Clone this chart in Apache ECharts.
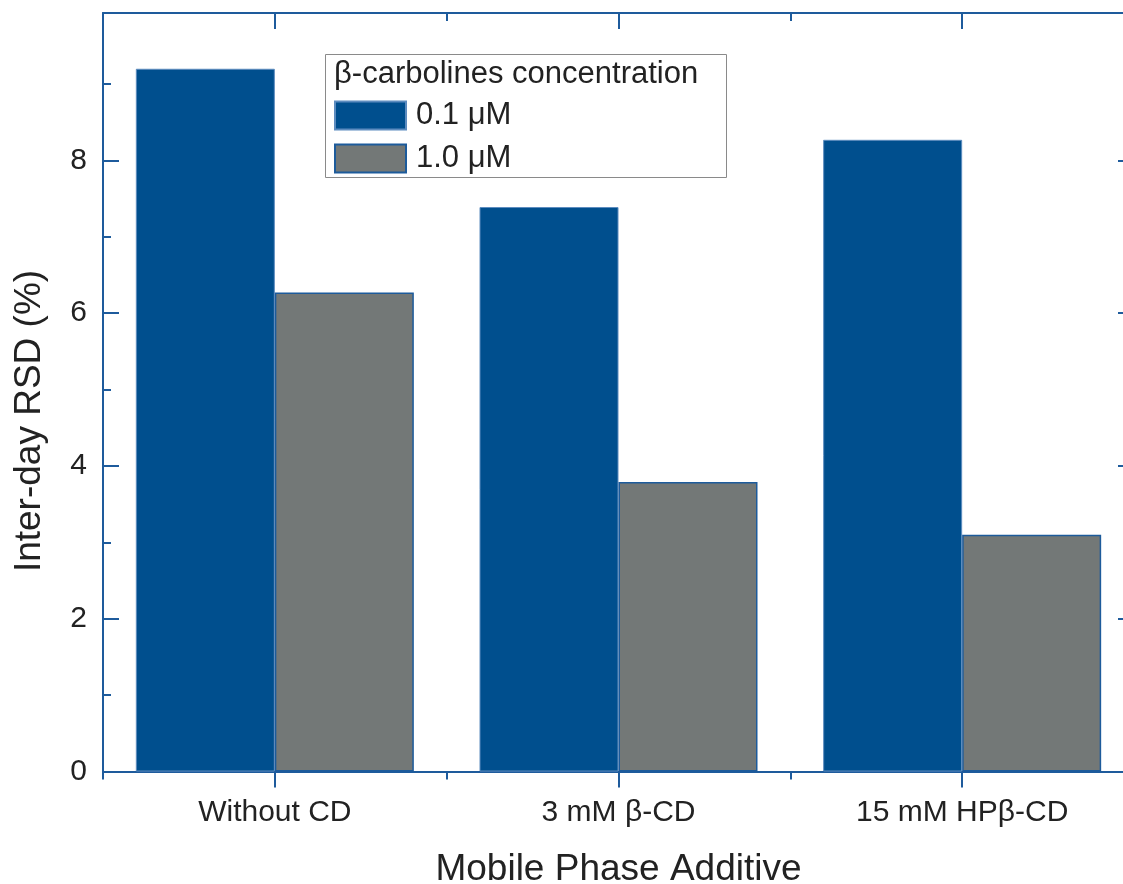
<!DOCTYPE html>
<html><head><meta charset="utf-8">
<script src="https://cdn.jsdelivr.net/npm/echarts@6/dist/echarts.min.js"></script>
<style>html,body{margin:0;padding:0;background:#fff}#c{width:1123px;height:884px}</style>
</head><body><div id="c"></div>
<script>
const categories = ['Without CD', '3 mM β-CD', '15 mM HPβ-CD'];
const seriesNames = ['0.1 μM', '1.0 μM'];
const rsd01 = [9.20, 7.39, 8.27];
const rsd10 = [6.27, 3.79, 3.10];
const yMin = 0, yMax = 9.93;

const FF = '"Liberation Sans", Arial, Helvetica, sans-serif';
const AX = '#1e5b9c';
const TXT = '#222';
const BLUE = '#004f8e';
const GRAY = '#737877';

const tickStyle = { color: AX, width: 2 };
const lineStyle = { color: AX, width: 2 };

function xAx(pos, main, alignCenter, inside, len, labels) {
  return {
    type: 'category', data: categories, position: pos,
    axisLine: { show: main, onZero: false, lineStyle },
    axisTick: { show: true, alignWithLabel: alignCenter, inside, length: len, lineStyle: tickStyle },
    axisLabel: labels ? { show: true, margin: 26, fontSize: 30, color: TXT, fontFamily: FF } : { show: false },
    splitLine: { show: false }
  };
}
function yAx(pos, main, interval, len, labels) {
  return {
    type: 'value', min: yMin, max: yMax, interval, position: pos,
    axisLine: { show: main, onZero: false, lineStyle },
    axisTick: { show: true, inside: true, length: len, lineStyle: tickStyle },
    axisLabel: labels ? {
      show: true, margin: 16, fontSize: 30, color: TXT, fontFamily: FF,
      formatter: v => (Math.abs(v - Math.round(v)) < 1e-6 && Math.round(v) % 2 === 0) ? String(Math.round(v)) : ''
    } : { show: false },
    splitLine: { show: false }
  };
}

const xMain = xAx('bottom', true, true, false, 16, true);
xMain.name = 'Mobile Phase Additive';
xMain.nameLocation = 'middle';
xMain.nameGap = 80;
xMain.nameTextStyle = { fontSize: 37, color: TXT, fontFamily: FF };

const chart = echarts.init(document.getElementById('c'), null, { renderer: 'canvas' });
chart.setOption({
  backgroundColor: '#fff',
  animation: false,
  grid: { left: 103, top: 13, right: -11, bottom: 112.5, containLabel: false, outerBoundsMode: 'none' },
  xAxis: [
    xMain,
    xAx('bottom', false, false, false, 8, false),
    xAx('top', true, true, true, 16, false),
    xAx('top', false, false, true, 8, false)
  ],
  yAxis: [
    yAx('left', true, 2, 16, true),
    yAx('left', false, 1, 8, false),
    yAx('right', true, 2, 16, false),
    yAx('right', false, 1, 8, false)
  ],
  legend: {
    orient: 'vertical', left: 334, top: 100, padding: 0,
    itemWidth: 71, itemHeight: 28, itemGap: 12, icon: 'rect',
    selectedMode: false,
    textStyle: { fontSize: 31, color: TXT, fontFamily: FF, lineHeight: 28, padding: [0, 0, 0, 5] },
    data: seriesNames
  },
  graphic: [
    { type: 'rect', left: 323, top: 52, shape: { width: 401, height: 123 },
      style: { fill: 'none', stroke: '#8a8a8a', lineWidth: 1 }, z: 1 },
    { type: 'text', left: 334, top: 59,
      style: { text: 'β-carbolines concentration', font: '31px ' + FF, fill: TXT }, z: 2 },
    { type: 'text', x: 30, y: 421, rotation: Math.PI / 2,
      style: { text: 'Inter-day RSD (%)', font: '37px ' + FF, fill: TXT, align: 'center', verticalAlign: 'middle' } }
  ],
  series: [
    { name: seriesNames[0], type: 'bar', xAxisIndex: 0, yAxisIndex: 0, data: rsd01,
      barWidth: 139, barGap: '0%',
      itemStyle: { color: BLUE, borderColor: '#5d8cbf', borderWidth: 1 } },
    { name: seriesNames[1], type: 'bar', xAxisIndex: 0, yAxisIndex: 0, data: rsd10,
      barWidth: 139, barGap: '0%',
      itemStyle: { color: GRAY, borderColor: '#1d5b9b', borderWidth: 1.5 } }
  ]
});
</script></body></html>
